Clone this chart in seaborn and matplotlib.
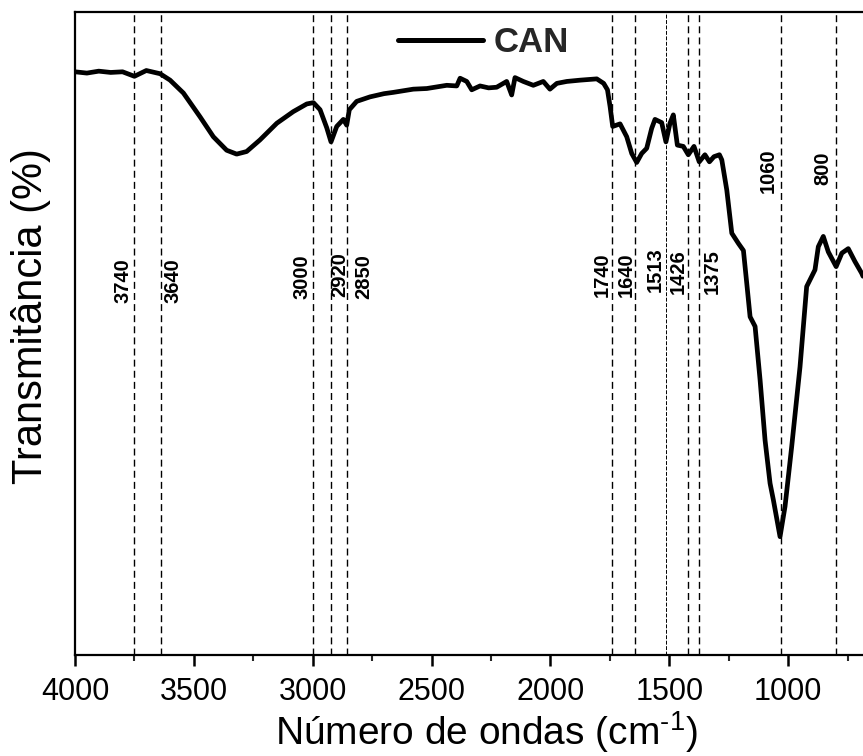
import numpy as np
import pandas as pd
import matplotlib
matplotlib.use("Agg")
import matplotlib.pyplot as plt
import seaborn as sns

# ---------------- data ----------------
wavenumber = [4000, 3950, 3900, 3850, 3800, 3750, 3700, 3642, 3600, 3544, 3474, 3418,
              3362, 3320, 3278, 3222, 3151, 3082, 3025, 2997, 2969, 2941, 2923, 2899,
              2871, 2857, 2846, 2815, 2759, 2700, 2661, 2577, 2520, 2436, 2394, 2380,
              2352, 2331, 2296, 2260, 2226, 2184, 2163, 2149, 2114, 2072, 2030, 2002,
              1973, 1931, 1875, 1805, 1776, 1760, 1749, 1738, 1707, 1679, 1658, 1637,
              1616, 1595, 1574, 1560, 1532, 1514, 1497, 1483, 1466, 1441, 1420, 1396,
              1374, 1350, 1331, 1312, 1289, 1279, 1258, 1237, 1209, 1188, 1174, 1160,
              1139, 1118, 1097, 1076, 1062, 1034, 1013, 985, 950, 922, 887, 873, 852,
              831, 798, 774, 747, 719, 691, 685]
transmittance = [90.7, 90.5, 90.8, 90.6, 90.7, 90.0, 90.9, 90.4, 89.4, 87.4, 83.7, 80.6,
                 78.5, 77.9, 78.3, 80.1, 82.7, 84.5, 85.7, 85.9, 84.8, 82.0, 79.8, 82.2,
                 83.3, 82.4, 84.8, 86.1, 86.8, 87.3, 87.5, 88.0, 88.1, 88.6, 88.5, 89.7,
                 89.2, 87.9, 88.5, 88.2, 88.3, 89.2, 87.1, 89.8, 89.2, 88.6, 89.2, 88.0,
                 88.9, 89.2, 89.4, 89.6, 88.9, 87.9, 85.3, 82.2, 82.6, 80.6, 78.0, 76.6,
                 78.0, 78.8, 81.9, 83.3, 82.8, 79.8, 82.7, 84.0, 79.3, 79.1, 77.8, 79.1,
                 76.7, 77.8, 76.7, 77.5, 77.8, 77.0, 72.3, 65.6, 64.0, 62.9, 57.8, 52.6,
                 51.1, 42.8, 33.4, 26.7, 24.1, 18.4, 23.1, 32.4, 44.8, 57.3, 59.9, 63.5, 65.1,
                 62.7, 60.4, 62.5, 63.2, 61.2, 59.4, 58.9]

band_labels = ["3740", "3640", "3000", "2920", "2850", "1740", "1640", "1513",
               "1426", "1375", "1060", "800"]
band_lines = [3750, 3640, 3000, 2922, 2855, 1740, 1643, 1515, 1422, 1375, 1030, 797]
label_x = [3798, 3588, 3045, 2885, 2784, 1784, 1679, 1560, 1463, 1321, 1085, 853]
label_y = [0.582, 0.583, 0.589, 0.591, 0.589, 0.592, 0.592, 0.599, 0.597, 0.597, 0.753, 0.757]

series_name = "CAN"
x_ticks = [4000, 3500, 3000, 2500, 2000, 1500, 1000]

df = pd.DataFrame({"wn": wavenumber, "T": transmittance, "amostra": series_name})

# ---------------- style ----------------
sns.set_theme(style="ticks")
plt.rcParams["font.family"] = ["Liberation Sans", "DejaVu Sans"]
plt.rcParams["mathtext.fontset"] = "custom"
plt.rcParams["mathtext.rm"] = "Liberation Sans"
plt.rcParams["mathtext.it"] = "Liberation Sans"

fig = plt.figure(figsize=(8.63, 7.56), dpi=100)
ax = fig.add_axes([75 / 863, 101 / 756, 1 - 75 / 863, (655 - 12) / 756])

sns.lineplot(data=df, x="wn", y="T", hue="amostra", palette=["black"],
             sort=False, estimator=None, linewidth=3.4, ax=ax)

for i, (pos, lab) in enumerate(zip(band_lines, band_labels)):
    if lab == "1513":
        ax.axvline(pos, color="black", lw=0.7, ls=(0, (4, 1.6)), zorder=1)
    else:
        ax.axvline(pos, color="black", lw=1.0, ls=(0, (5, 3)), zorder=1)
    ax.text(label_x[i], label_y[i], lab, rotation=90, ha="center", va="center",
            fontsize=14.5, fontweight="bold", color="black",
            transform=ax.get_xaxis_transform())

ax.set_xlim(4000, 685)
ax.set_ylim(0, 100)
ax.set_xticks(x_ticks)
ax.set_xticks(np.arange(3750, 600, -500), minor=True)
ax.set_yticks([])
ax.tick_params(axis="x", which="major", direction="out", length=8, width=1.8,
               labelsize=22, pad=8, colors="black")
ax.tick_params(axis="x", which="minor", direction="out", length=4, width=1.5)
ax.tick_params(axis="y", left=False, right=False)

for side in ["left", "bottom", "top"]:
    ax.spines[side].set_linewidth(1.6)
    ax.spines[side].set_color("black")
ax.spines["right"].set_visible(False)

ax.set_xlabel(r"Número de ondas (cm$^{\text{-}1}$)", fontsize=28, color="black")
ax.xaxis.set_label_coords(0.522, -0.084)
ax.set_ylabel("Transmitância (%)", fontsize=30, color="black")
ax.yaxis.set_label_coords(-0.030, 0.527)

leg = ax.legend(loc="center left", bbox_to_anchor=(0.41, 0.953), frameon=False,
                handlelength=2.45, handletextpad=0.3, borderpad=0, borderaxespad=0,
                prop={"size": 25, "weight": "bold"})
for line in leg.get_lines():
    line.set_linewidth(3.6)

fig.savefig("out.png", dpi=100)
